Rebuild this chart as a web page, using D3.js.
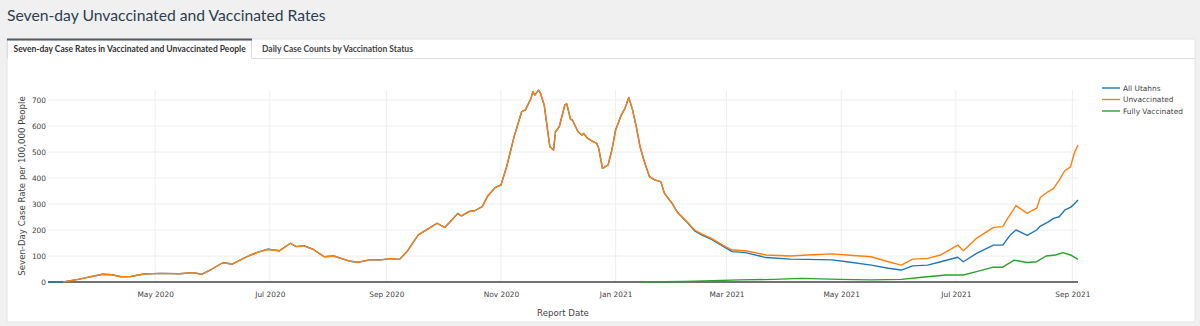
<!DOCTYPE html>
<html>
<head>
<meta charset="utf-8">
<script src="https://cdn.jsdelivr.net/npm/d3@7"></script>
<style>
  html, body { margin: 0; padding: 0; background: #f0f0f0; }
  svg { display: block; }
</style>
</head>
<body>
<svg id="chart" width="1200" height="326"></svg>
<script>
// ---------- data ----------
const seriesNames = ["All Utahns", "Unvaccinated", "Fully Vaccinated"];
const seriesColors = ["#1f77b4", "#ff7f0e", "#2ca02c"];
const yTicks = [0, 100, 200, 300, 400, 500, 600, 700];

const unvaxDates = ["2020-03-13","2020-03-21","2020-04-03","2020-04-08","2020-04-13","2020-04-18","2020-04-25","2020-05-04","2020-05-14","2020-05-21","2020-05-26","2020-05-31","2020-06-06","2020-06-11","2020-06-18","2020-06-24","2020-06-30","2020-07-06","2020-07-12","2020-07-15","2020-07-19","2020-07-24","2020-07-30","2020-08-04","2020-08-12","2020-08-17","2020-08-23","2020-08-29","2020-09-03","2020-09-08","2020-09-12","2020-09-18","2020-09-23","2020-09-28","2020-10-02","2020-10-05","2020-10-09","2020-10-11","2020-10-15","2020-10-18","2020-10-22","2020-10-25","2020-10-29","2020-11-01","2020-11-04","2020-11-08","2020-11-12","2020-11-14","2020-11-17","2020-11-18","2020-11-19","2020-11-21","2020-11-22","2020-11-24","2020-11-27","2020-11-29","2020-11-30","2020-12-02","2020-12-05","2020-12-06","2020-12-08","2020-12-09","2020-12-12","2020-12-14","2020-12-15","2020-12-17","2020-12-20","2020-12-22","2020-12-23","2020-12-25","2020-12-27","2020-12-28","2020-12-30","2021-01-01","2021-01-04","2021-01-06","2021-01-08","2021-01-10","2021-01-12","2021-01-14","2021-01-16","2021-01-19","2021-01-22","2021-01-25","2021-01-27","2021-01-31","2021-02-03","2021-02-08","2021-02-12","2021-02-16","2021-02-21","2021-02-27","2021-03-04","2021-03-11","2021-03-22","2021-04-04","2021-04-13","2021-04-26","2021-05-04","2021-05-17","2021-05-26","2021-06-02","2021-06-08","2021-06-16","2021-06-23","2021-07-02","2021-07-05","2021-07-12","2021-07-21","2021-07-26","2021-07-28","2021-07-30","2021-08-02","2021-08-08","2021-08-11","2021-08-13","2021-08-15","2021-08-19","2021-08-22","2021-08-25","2021-08-28","2021-08-31","2021-09-02","2021-09-04"];
const unvaxValues = [0,10,30,28,20,21,31,33,32,36,30,49,74,69,95,113,126,120,149,136,140,126,97,100,81,76,85,85,90,87,117,181,203,226,210,232,264,254,271,274,290,331,364,373,443,559,655,662,707,732,719,738,726,681,520,508,578,597,681,685,626,623,578,565,571,553,540,533,514,437,446,450,508,585,642,668,710,662,597,520,469,405,392,386,341,303,267,232,200,184,168,142,123,120,104,100,104,108,104,97,78,65,88,91,104,142,120,168,210,213,238,260,294,264,277,283,326,347,360,392,428,443,495,527];

const allDates = ["2020-03-05","2020-03-13","2020-03-21","2020-04-03","2020-04-08","2020-04-13","2020-04-18","2020-04-25","2020-05-04","2020-05-14","2020-05-21","2020-05-26","2020-05-31","2020-06-06","2020-06-11","2020-06-18","2020-06-24","2020-06-30","2020-07-06","2020-07-12","2020-07-15","2020-07-19","2020-07-24","2020-07-30","2020-08-04","2020-08-12","2020-08-17","2020-08-23","2020-08-29","2020-09-03","2020-09-08","2020-09-12","2020-09-18","2020-09-23","2020-09-28","2020-10-02","2020-10-05","2020-10-09","2020-10-11","2020-10-15","2020-10-18","2020-10-22","2020-10-25","2020-10-29","2020-11-01","2020-11-04","2020-11-08","2020-11-12","2020-11-14","2020-11-17","2020-11-18","2020-11-19","2020-11-21","2020-11-22","2020-11-24","2020-11-27","2020-11-29","2020-11-30","2020-12-02","2020-12-05","2020-12-06","2020-12-08","2020-12-09","2020-12-12","2020-12-14","2020-12-15","2020-12-17","2020-12-20","2020-12-22","2020-12-23","2020-12-25","2020-12-27","2020-12-28","2020-12-30","2021-01-01","2021-01-04","2021-01-06","2021-01-08","2021-01-10","2021-01-12","2021-01-14","2021-01-16","2021-01-19","2021-01-22","2021-01-25","2021-01-27","2021-01-31","2021-02-03","2021-02-08","2021-02-12","2021-02-16","2021-02-21","2021-02-27","2021-03-04","2021-03-11","2021-03-22","2021-04-04","2021-04-13","2021-04-26","2021-05-04","2021-05-17","2021-05-26","2021-06-02","2021-06-08","2021-06-16","2021-06-23","2021-07-02","2021-07-05","2021-07-12","2021-07-21","2021-07-26","2021-07-30","2021-08-02","2021-08-08","2021-08-13","2021-08-15","2021-08-19","2021-08-22","2021-08-25","2021-08-28","2021-08-31","2021-09-02","2021-09-04"];
const allValues = [0,0,10,30,28,20,21,31,33,32,36,30,49,74,69,95,113,126,120,149,136,140,126,97,100,81,76,85,85,90,87,117,181,203,226,210,232,264,254,271,274,290,331,364,373,443,559,655,662,707,732,719,738,726,681,520,508,578,597,681,685,626,623,578,565,571,553,540,533,514,437,446,450,508,585,642,668,710,662,597,520,469,405,392,386,341,303,267,230,197,180,164,138,117,113,94,88,87,85,78,65,53,46,62,65,78,95,78,110,142,142,181,200,179,200,215,230,245,251,277,287,300,315];

const vaxDates = ["2021-01-15","2021-02-07","2021-03-08","2021-03-26","2021-04-10","2021-04-30","2021-05-17","2021-06-02","2021-06-13","2021-06-26","2021-07-05","2021-07-12","2021-07-21","2021-07-26","2021-08-01","2021-08-08","2021-08-13","2021-08-18","2021-08-23","2021-08-27","2021-08-31","2021-09-04"];
const vaxValues = [0,2,8,10,14,10,8,10,18,27,27,40,57,57,84,75,78,100,104,113,104,87];

// ---------- layout ----------
const svg = d3.select("#chart");
const parse = d3.timeParse("%Y-%m-%d");
const plot = { left: 48, right: 1078, top: 90, bottom: 282 };

// page chrome
svg.append("text").attr("x", 7).attr("y", 21)
  .attr("font-family", "Lato, sans-serif").attr("font-size", 15.7)
  .attr("fill", "#2c3e50").text("Seven-day Unvaccinated and Vaccinated Rates");

svg.append("rect").attr("x", 7).attr("y", 39).attr("width", 1188).attr("height", 283)
  .attr("fill", "#fff").attr("stroke", "#e4e4e4");
// tab bar bottom line
svg.append("line").attr("x1", 252).attr("x2", 1195).attr("y1", 58.5).attr("y2", 58.5)
  .attr("stroke", "#dddddd");
// active tab
svg.append("path").attr("d", "M7.5,58.5 V40 H251.5 V58.5").attr("fill", "#fff").attr("stroke", "#dddddd");
svg.append("line").attr("x1", 7).attr("x2", 252).attr("y1", 39.5).attr("y2", 39.5)
  .attr("stroke", "#555b63").attr("stroke-width", 2);
svg.append("text").attr("x", 13.5).attr("y", 52)
  .attr("font-family", "Lato, sans-serif").attr("font-size", 8.5).attr("font-weight", 700)
  .attr("fill", "#333").text("Seven-day Case Rates in Vaccinated and Unvaccinated People");
svg.append("text").attr("x", 262).attr("y", 52)
  .attr("font-family", "Lato, sans-serif").attr("font-size", 8.5).attr("font-weight", 700)
  .attr("fill", "#444").text("Daily Case Counts by Vaccination Status");

// scales
const x = d3.scaleTime()
  .domain([parse("2020-03-05"), parse("2021-09-04")])
  .range([plot.left, plot.right]);
const y = d3.scaleLinear().domain([0, 700]).range([282, 100]);

const font = "DejaVu Sans, Verdana, sans-serif";
const g = svg.append("g");

// grid
const xTicks = x.ticks(d3.timeMonth.every(2));
g.append("g").selectAll("line").data(xTicks).join("line")
  .attr("x1", d => x(d)).attr("x2", d => x(d))
  .attr("y1", plot.top).attr("y2", plot.bottom)
  .attr("stroke", "#eeeeee").attr("stroke-width", 1);
g.append("g").selectAll("line").data(yTicks.filter(v => v > 0)).join("line")
  .attr("x1", plot.left).attr("x2", plot.right)
  .attr("y1", d => y(d)).attr("y2", d => y(d))
  .attr("stroke", "#eeeeee").attr("stroke-width", 1);

// zero line
g.append("line").attr("x1", plot.left).attr("x2", plot.right)
  .attr("y1", y(0)).attr("y2", y(0)).attr("stroke", "#444").attr("stroke-width", 1.5);

// axes (labels only, plotly-style)
const xAxis = d3.axisBottom(x).tickValues(xTicks).tickFormat(d3.timeFormat("%b %Y")).tickSize(0).tickPadding(0);
const xg = g.append("g").attr("transform", `translate(0,${y(0) + 15})`).call(xAxis);
xg.select(".domain").remove();
xg.selectAll("text").attr("font-family", font).attr("font-size", 7.4).attr("fill", "#444").attr("dy", 0);

const yAxis = d3.axisLeft(y).tickValues(yTicks).tickSize(0).tickPadding(0);
const yg = g.append("g").attr("transform", `translate(${plot.left - 2},0)`).call(yAxis);
yg.select(".domain").remove();
yg.selectAll("text").attr("font-family", font).attr("font-size", 7.4).attr("fill", "#444").attr("dy", "0.34em");

// axis titles
svg.append("text").attr("x", (plot.left + plot.right) / 2).attr("y", 316)
  .attr("text-anchor", "middle").attr("font-family", font).attr("font-size", 8.6)
  .attr("fill", "#444").text("Report Date");
svg.append("text").attr("transform", `translate(25,${(plot.top + plot.bottom) / 2}) rotate(-90)`)
  .attr("text-anchor", "middle").attr("font-family", font).attr("font-size", 8.6)
  .attr("fill", "#444").text("Seven-Day Case Rate per 100,000 People");

// lines
const series = [
  { dates: allDates, values: allValues },
  { dates: unvaxDates, values: unvaxValues },
  { dates: vaxDates, values: vaxValues }
];
const line = d3.line().x(d => x(d[0])).y(d => y(d[1]));
series.forEach((s, i) => {
  const pts = s.dates.map((dd, j) => [parse(dd), s.values[j]]);
  g.append("path").datum(pts).attr("d", line)
    .attr("fill", "none").attr("stroke", seriesColors[i])
    .attr("stroke-width", 1.4).attr("stroke-linejoin", "round");
});

// legend
const lg = svg.append("g").attr("transform", "translate(1102,88)");
seriesNames.forEach((name, i) => {
  const row = lg.append("g").attr("transform", `translate(0,${i * 11.5})`);
  row.append("line").attr("x1", 0).attr("x2", 18).attr("y1", 0).attr("y2", 0)
    .attr("stroke", seriesColors[i]).attr("stroke-width", 1.4);
  row.append("text").attr("x", 21).attr("y", 0).attr("dy", "0.35em")
    .attr("font-family", font).attr("font-size", 7.4).attr("fill", "#444").text(name);
});
</script>
</body>
</html>
